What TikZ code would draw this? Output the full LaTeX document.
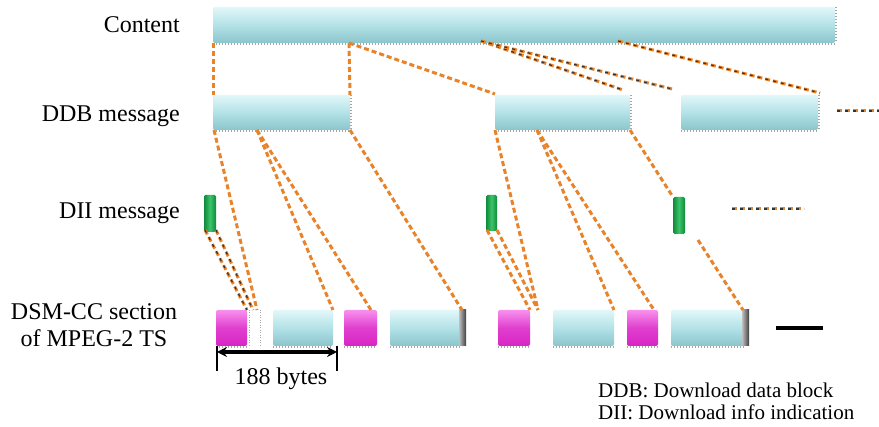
\documentclass[tikz,border=0pt]{standalone}
\usepackage{fontspec}
\setmainfont{Liberation Serif}
\usetikzlibrary{arrows.meta}
\definecolor{orng}{HTML}{E8832A}
\definecolor{cyT}{HTML}{E2F7F9}
\definecolor{cyM}{HTML}{B3E2E7}
\definecolor{cyB}{HTML}{8AC5CC}
\definecolor{pkT}{HTML}{F890EE}
\definecolor{pkB}{HTML}{D824C4}
\definecolor{gnT}{HTML}{3CC46A}
\definecolor{gnB}{HTML}{0E8A3A}
\newcommand\mybox[6]{\node[#1, minimum width={#4pt-#2pt}, minimum height={#5pt-#3pt}] (#6) at ({(#2+#4)/2},{(#3+#5)/2}) {};}
\begin{document}
\begin{tikzpicture}[x=1pt,y=-1pt,
  base/.style={rectangle, inner sep=0pt, outer sep=0pt, draw=none},
  cy/.style={base, rounded corners=2pt, top color=cyT, bottom color=cyB, middle color=cyM},
  pk/.style={base, rounded corners=2pt, top color=pkT, bottom color=pkB, middle color=pkB!75!pkT},
  gn/.style={base, rounded corners=1.5pt, left color=gnB, right color=gnB, middle color=gnT},
  darkend/.style={base, left color=gray!50, right color=black!75},
  ticks/.style={draw=gray!70, line width=1.6pt, dash pattern=on 1pt off 2pt},
  od/.style={draw=orng, line width=3pt, dash pattern=on 5pt off 3pt},
  odk/.style={od, postaction={draw=black!80, line width=1.2pt, dash pattern=on 3pt off 5pt}},
  lab/.style={font=\fontsize{24}{28}\selectfont, inner sep=0pt},
  leg/.style={font=\fontsize{21}{24}\selectfont, inner sep=0pt}]
\fill[white] (0,0) rectangle (879,427);
\useasboundingbox (0,0) rectangle (879,427);

% labels
\node[lab, anchor=base east] (l1) at (180,33) {Content};
\node[lab, anchor=base east] (l2) at (180,122) {DDB message};
\node[lab, anchor=base east] (l3) at (180,219) {DII message};
\node[lab, anchor=base] (l4) at (94,320) {DSM-CC section};
\node[lab, anchor=base] (l5) at (94,347) {of MPEG-2 TS};

% boxes
\mybox{cy}{213}{7}{835}{43}{ct}
\mybox{cy}{213}{95}{350}{130}{d1}
\mybox{cy}{495}{95}{630}{130}{d2}
\mybox{cy}{681}{95}{818}{130}{d3}
\mybox{gn}{204}{195}{216}{232}{i1}
\mybox{gn}{486}{195}{497}{231}{i2}
\mybox{gn}{673}{197}{685}{234}{i3}
\mybox{pk}{216}{310}{247}{346}{p1}
\mybox{cy}{273}{310}{333}{346}{s1}
\mybox{pk}{344}{310}{377}{346}{p2}
\mybox{cy}{390}{310}{462}{346}{s2}
\mybox{darkend}{459}{310}{466}{346}{e2}
\mybox{pk}{498}{310}{530}{346}{p3}
\mybox{cy}{553}{310}{614}{346}{s3}
\mybox{pk}{627}{310}{658}{346}{p4}
\mybox{cy}{671}{310}{745}{346}{s4}
\mybox{darkend}{742}{310}{749}{346}{e4}

% bottom tick marks of the blocks
\foreach \b in {ct,d1,d2,d3,p1,s1,p2,s2,p3,s3,p4,s4}
  \draw[ticks] ([yshift=-1pt]\b.south west) -- ([yshift=-1pt]\b.south east);
\foreach \b in {ct,d1,d2,d3}
  \draw[ticks, line width=1.2pt] ([xshift=1pt]\b.north east) -- ([xshift=1pt]\b.south east);
\coordinate (g1) at (249,310); \coordinate (g2) at (249,346);
\coordinate (g3) at (260,310); \coordinate (g4) at (260,346);
\draw[draw=gray!70, line width=1pt, dash pattern=on 1pt off 1.5pt] (g1) -- (g2) (g3) -- (g4);

% content -> DDB
\draw[od] (ct.south west) -- (d1.north west);
\draw[od] ([xshift=136pt]ct.south west) -- (d1.north east);
\draw[od] ([xshift=136pt]ct.south west) -- ([yshift=1pt]d2.north west);
\draw[odk] ([xshift=268pt,yshift=2pt]ct.south west) -- ([xshift=-7pt,yshift=5pt]d2.north east);
\draw[odk] ([xshift=268pt,yshift=2pt]ct.south west) -- ([xshift=-9pt,yshift=6pt]d3.north west);
\draw[odk] ([xshift=405pt,yshift=2pt]ct.south west) -- ([xshift=2pt,yshift=2pt]d3.north east);

% DDB -> sections
\draw[od] ([xshift=1pt]d1.south west) -- ([xshift=10pt]p1.north east);
\draw[od] ([xshift=44pt]d1.south west) -- (s1.north east);
\draw[od] ([xshift=44pt]d1.south west) -- ([xshift=-6pt]p2.north east);
\draw[od] (d1.south east) -- (s2.north east);
\draw[od] (d2.south west) -- ([xshift=8pt]p3.north east);
\draw[od] ([xshift=42pt]d2.south west) -- (s3.north east);
\draw[od] ([xshift=42pt]d2.south west) -- ([xshift=-4pt]p4.north east);
\draw[od] (d2.south east) -- (i3.north west);

% DII -> sections
\draw[odk] ([xshift=1pt,yshift=2pt]i1.south west) -- (p1.north east);
\draw[odk] ([yshift=2pt]i1.south east) -- ([xshift=6pt]p1.north east);
\draw[od] ([xshift=1pt,yshift=1pt]i2.south west) -- (p3.north east);
\draw[od] ([yshift=1pt]i2.south east) -- ([xshift=8pt]p3.north east);
\coordinate (f1) at (698,240);
\draw[od] (f1) -- ([xshift=-2pt]s4.north east);

% continuation lines
\coordinate (f2a) at (837,111); \coordinate (f2b) at (879,111);
\draw[odk] (f2a) -- (f2b);
\coordinate (f3a) at (732,209); \coordinate (f3b) at (804,209);
\draw[odk] (f3a) -- (f3b);
\coordinate (f4a) at (776,328); \coordinate (f4b) at (823,328);
\draw[line width=3.5pt] (f4a) -- (f4b);

% 188 bytes
\coordinate (aL) at (217,352); \coordinate (aR) at (337,352);
\coordinate (vL1) at (217,346); \coordinate (vL2) at (217,371);
\coordinate (vR1) at (337,346); \coordinate (vR2) at (337,371);
\draw[line width=1.5pt] (vL1) -- (vL2) (vR1) -- (vR2);
\draw[{Stealth[length=10pt,width=10pt]}-{Stealth[length=10pt,width=10pt]}, line width=3.5pt] (aL) -- (aR);
\node[lab, anchor=base] (bytes) at (281,385) {188 bytes};

% legend
\node[leg, anchor=base west] (lg1) at (598,398) {DDB: Download data block};
\node[leg, anchor=base west] (lg2) at (598,420) {DII: Download info indication};
\end{tikzpicture}
\end{document}
